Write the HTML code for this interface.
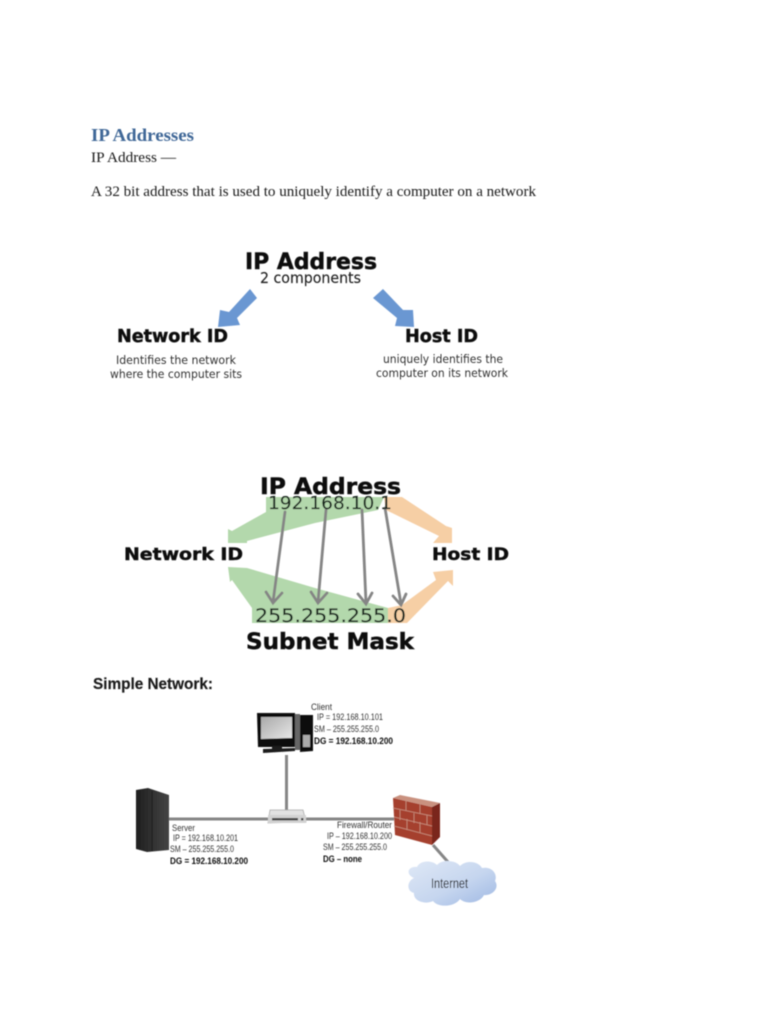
<!DOCTYPE html>
<html>
<head>
<meta charset="utf-8">
<style>
html,body{margin:0;padding:0;background:#fff}
svg{display:block;width:768px;height:1024px}
.s{font-family:"Liberation Serif",serif}
.d{font-family:"DejaVu Sans",sans-serif}
.l{font-family:"Liberation Sans",sans-serif}
.soft{filter:url(#b)}
.h{stroke:#111;stroke-width:.45}
.h2{stroke:#111;stroke-width:.15}
.m{stroke:#333;stroke-width:.15}
</style>
</head>
<body>
<svg xmlns="http://www.w3.org/2000/svg" viewBox="0 0 768 1024" width="768" height="1024">
<defs>
<filter id="b" x="-5%" y="-5%" width="110%" height="110%"><feGaussianBlur stdDeviation="0.5"/></filter>
<linearGradient id="cl" x1="0" y1="0" x2="1" y2="1"><stop offset="0" stop-color="#dfe8f6"/><stop offset="0.55" stop-color="#c6d6ef"/><stop offset="1" stop-color="#9db7e2"/></linearGradient>
<linearGradient id="srv" x1="0" y1="0" x2="1" y2="0"><stop offset="0" stop-color="#1f1f1f"/><stop offset="0.35" stop-color="#2c2c2c"/><stop offset="1" stop-color="#444"/></linearGradient>
<linearGradient id="scr" x1="0" y1="0" x2="1" y2="1"><stop offset="0" stop-color="#a9a9a9"/><stop offset="1" stop-color="#e8e8e8"/></linearGradient>
</defs>

<g class="soft">
<text class="s" x="91" y="141" font-size="18" font-weight="bold" fill="#3f6797" textLength="103" lengthAdjust="spacingAndGlyphs">IP Addresses</text>
<text class="s" x="91" y="162" font-size="14.5" fill="#1a1a1a" textLength="85" lengthAdjust="spacingAndGlyphs">IP Address —</text>
<text class="s" x="91" y="196" font-size="14.5" fill="#1a1a1a" textLength="445" lengthAdjust="spacingAndGlyphs">A 32 bit address that is used to uniquely identify a computer on a network</text>
</g>

<!-- Diagram 1 -->
<g class="soft">
<text class="d h" x="245" y="269" font-size="22.5" font-weight="bold" fill="#111" textLength="132" lengthAdjust="spacingAndGlyphs">IP Address</text>
<text class="d m" x="260" y="283" font-size="15" fill="#222" textLength="101" lengthAdjust="spacingAndGlyphs">2 components</text>
<polygon points="250,289 229,312 220,310 218,327 240,325 237,318 257,298" fill="#6a97d2"/>
<polygon points="383,289 403,310 413,310 414,327 395,326 397,318 373,298" fill="#6a97d2"/>
<text class="d h" x="117" y="342" font-size="18" font-weight="bold" fill="#111" textLength="111" lengthAdjust="spacingAndGlyphs">Network ID</text>
<text class="d h" x="405" y="342" font-size="18" font-weight="bold" fill="#111" textLength="73" lengthAdjust="spacingAndGlyphs">Host ID</text>
<text class="d" x="116" y="364" font-size="11.5" fill="#333" textLength="120" lengthAdjust="spacingAndGlyphs">Identifies the network</text>
<text class="d" x="110" y="378" font-size="11.5" fill="#333" textLength="132" lengthAdjust="spacingAndGlyphs">where the computer sits</text>
<text class="d" x="383" y="363" font-size="11.5" fill="#333" textLength="120" lengthAdjust="spacingAndGlyphs">uniquely identifies the</text>
<text class="d" x="376" y="377" font-size="11.5" fill="#333" textLength="132" lengthAdjust="spacingAndGlyphs">computer on its network</text>
</g>

<!-- Diagram 2 -->
<g class="soft">
<polygon points="266,497 384,497 378,510 315,523 247,541 247,543 228,543 228,529 232,531 266,512" fill="#b3d8ac"/>
<polygon points="384,497 402,497 446,526 452,528 452,543 433,543 439,536 386,510" fill="#f6cfa5"/>
<polygon points="228,567 247,568 315,588 388,608 388,623 252,623 252,608 232,580 230,582" fill="#b3d8ac"/>
<polygon points="388,608 402,605 436,580 433,572 453,570 453,586 448,581 407,623 388,623" fill="#f6cfa5"/>
<g stroke="#858585" stroke-width="2.8" fill="none" stroke-linecap="round">
<path d="M285,512 L273,602 M266,592 L273,603 L282,593"/>
<path d="M326,510 L318,602 M311,592 L318,603 L327,593"/>
<path d="M362,510 L366,603 M358,594 L366,604 L372,593"/>
<path d="M385,508 L401,604 M393,596 L401,605 L406,594"/>
</g>
<text class="d h" x="260" y="494" font-size="22" font-weight="bold" fill="#111" textLength="141" lengthAdjust="spacingAndGlyphs">IP Address</text>
<text class="d m" x="268" y="509" font-size="17.5" fill="#12261a" textLength="124" lengthAdjust="spacingAndGlyphs">192.168.10.1</text>
<text class="d h" x="124" y="560" font-size="16.5" font-weight="bold" fill="#111" textLength="119" lengthAdjust="spacingAndGlyphs">Network ID</text>
<text class="d h" x="432" y="560" font-size="16.5" font-weight="bold" fill="#111" textLength="77" lengthAdjust="spacingAndGlyphs">Host ID</text>
<text class="d m" x="255" y="622" font-size="19" fill="#12261a" textLength="151" lengthAdjust="spacingAndGlyphs">255.255.255.0</text>
<text class="d h" x="246" y="649" font-size="22" font-weight="bold" fill="#111" textLength="168" lengthAdjust="spacingAndGlyphs">Subnet Mask</text>
</g>

<!-- Diagram 3 -->
<g class="soft">
<text class="l h2" x="93" y="689" font-size="15.5" font-weight="bold" fill="#1a1a1a" textLength="120" lengthAdjust="spacingAndGlyphs">Simple Network:</text>

<!-- connectors -->
<rect x="285" y="755" width="3" height="58" fill="#868686"/>
<rect x="168" y="817.5" width="226" height="3" fill="#868686"/>
<line x1="433" y1="845" x2="448" y2="862" stroke="#868686" stroke-width="3"/>

<!-- client PC -->
<polygon points="257,713 295,713 295,747 258,747" fill="#0c0c0c"/>
<polygon points="261,717 292,717 292,738 261,739" fill="url(#scr)"/>
<rect x="295" y="714" width="5" height="36" fill="#666"/>
<rect x="272" y="746" width="10" height="3" fill="#1a1a1a"/>
<polygon points="263,749 295,748 295,751 263,753" fill="#1a1a1a"/>
<polygon points="300,715 313,715 313,751 300,752" fill="#111"/>
<rect x="303" y="735" width="7" height="12" fill="#aaa"/>

<!-- server -->
<polygon points="136,790 148,788 169,795 169,850 147,852 136,849" fill="url(#srv)"/>
<line x1="152" y1="791" x2="152" y2="851" stroke="#1c1c1c" stroke-width="1"/>

<!-- switch -->
<polygon points="270,810 303,810 306,822 268,823" fill="#e2e2e2" stroke="#a8a8a8" stroke-width="0.8"/>
<rect x="268" y="815" width="38" height="8" fill="#d2d2d2"/>
<rect x="272" y="818" width="26" height="2.4" fill="#444"/>
<rect x="301" y="818" width="2.4" height="2.4" fill="#444"/>

<!-- wall -->
<polygon points="393,798 400,795 440,803 432,807" fill="#c9917f"/>
<polygon points="393,798 432,807 432,845 395,835" fill="#a5402f"/>
<polygon points="432,807 440,803 440,837 432,845" fill="#7a271e"/>
<g stroke="#c9917f" stroke-width="0.8" fill="none">
<path d="M393,808 L432,816 M394,817 L432,826 M394,826 L432,836"/>
<path d="M406,801 V811 M420,804 V814 M400,810 V820 M414,813 V823 M427,815 V825 M407,819 V830 M420,822 V833"/>
</g>

<!-- cloud -->
<path d="M414,878 C405,874 408,866 417,867 C420,860 432,860 437,865 C442,859 456,860 460,866 C466,860 478,861 482,868 C492,866 498,874 495,881 C500,888 492,896 484,895 C480,903 466,905 460,899 C455,907 438,908 433,901 C425,905 413,901 414,893 C406,891 407,881 414,878 Z" fill="url(#cl)"/>
<text class="l" x="431" y="888" font-size="13.5" fill="#111" textLength="37" lengthAdjust="spacingAndGlyphs">Internet</text>

<!-- labels -->
<g class="l" font-size="9.5" fill="#333">
<text x="311" y="710" textLength="21" lengthAdjust="spacingAndGlyphs">Client</text>
<text x="317" y="720" textLength="66" lengthAdjust="spacingAndGlyphs">IP = 192.168.10.101</text>
<text x="314" y="732" textLength="65" lengthAdjust="spacingAndGlyphs">SM – 255.255.255.0</text>
<text x="314" y="744" font-weight="bold" fill="#111" textLength="79" lengthAdjust="spacingAndGlyphs">DG = 192.168.10.200</text>
<text x="172" y="831" textLength="23" lengthAdjust="spacingAndGlyphs">Server</text>
<text x="173" y="841" textLength="65" lengthAdjust="spacingAndGlyphs">IP = 192.168.10.201</text>
<text x="170" y="852" textLength="64" lengthAdjust="spacingAndGlyphs">SM – 255.255.255.0</text>
<text x="170" y="864" font-weight="bold" fill="#111" textLength="78" lengthAdjust="spacingAndGlyphs">DG = 192.168.10.200</text>
<text x="337" y="828" textLength="55" lengthAdjust="spacingAndGlyphs">Firewall/Router</text>
<text x="327" y="839" textLength="65" lengthAdjust="spacingAndGlyphs">IP – 192.168.10.200</text>
<text x="323" y="850" textLength="64" lengthAdjust="spacingAndGlyphs">SM – 255.255.255.0</text>
<text x="323" y="862" font-weight="bold" fill="#111" textLength="39" lengthAdjust="spacingAndGlyphs">DG – none</text>
</g>
</g>
</svg>
</body>
</html>
